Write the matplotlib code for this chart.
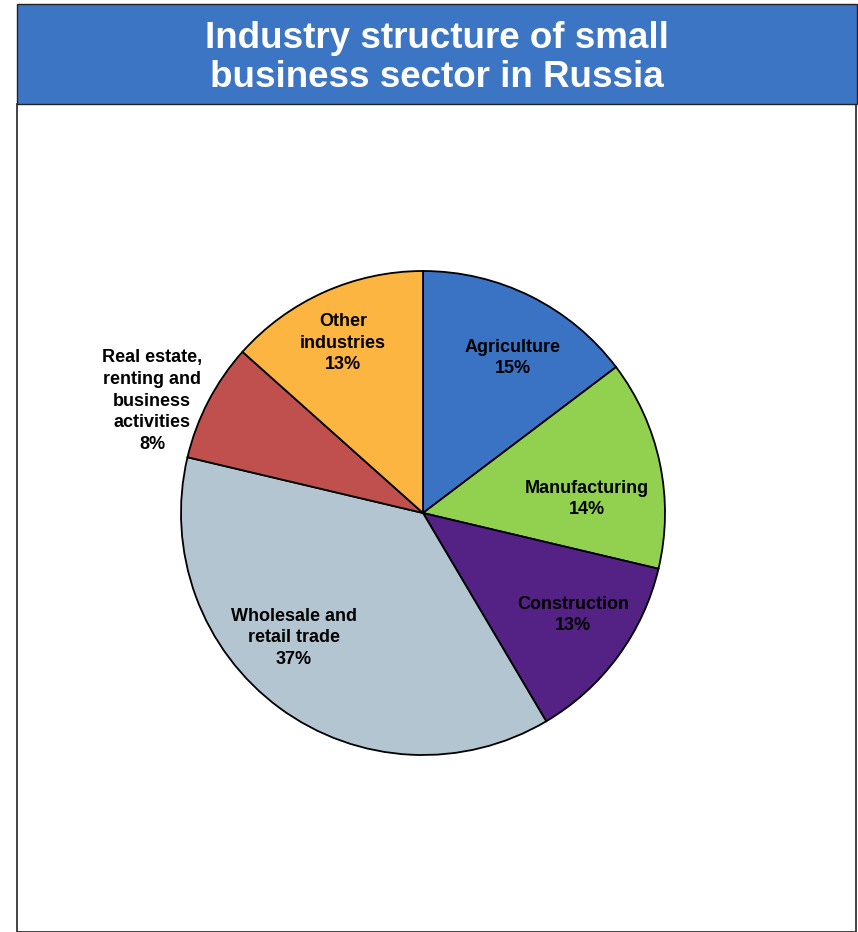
import matplotlib
matplotlib.use("Agg")
import matplotlib.pyplot as plt
from matplotlib.patches import Rectangle

# datos del grafico
sectores = ["Agriculture", "Manufacturing", "Construction", "Wholesale and\nretail trade",
            "Real estate,\nrenting and\nbusiness\nactivities", "Other\nindustries"]
porcentajes = [14.7, 14.0, 12.8, 37.2, 7.9, 13.4]
colores = ["#3B73C4", "#92D14F", "#542185", "#B3C5D1", "#C0504D", "#FBB540"]
titulo = "Industry structure of small\nbusiness sector in Russia"

plt.rcParams['font.family'] = ['Liberation Sans', 'DejaVu Sans']

fig = plt.figure(figsize=(8.58, 9.32), dpi=100)
W, H = 858, 932

# marco y banda del titulo
fig.patches.append(Rectangle((17 / W, 0), (856 - 17) / W, 1 - 104 / H, transform=fig.transFigure,
                             facecolor="white", edgecolor="#222222", linewidth=1.2, zorder=0))
fig.patches.append(Rectangle((17 / W, 1 - 104 / H), (857 - 17) / W, (104 - 4) / H, transform=fig.transFigure,
                             facecolor="#3B75C4", edgecolor="#222222", linewidth=1.0, zorder=1))
fig.text(437 / W, 1 - 58 / H, titulo, ha="center", va="center", color="white",
         fontsize=26.5, fontweight="bold", linespacing=1.13)

# pie
cx, cy, r = 423, 513, 242
ax = fig.add_axes([(cx - r) / W, 1 - (cy + r) / H, 2 * r / W, 2 * r / H], zorder=3)
ax.patch.set_visible(False)
wedges, _ = ax.pie(porcentajes, colors=colores, startangle=90, counterclock=False,
                   wedgeprops=dict(edgecolor="black", linewidth=1.3))
ax.set_xlim(-1, 1)
ax.set_ylim(-1, 1)
ax.set_aspect("auto")
ax.axis("off")

# posiciones de etiquetas (pixeles)
pos_etiquetas = [(513, 358), (587, 499), (573, 615), (294, 638), (152, 401), (343, 343)]
for nombre, pct, (px, py) in zip(sectores, porcentajes, pos_etiquetas):
    t = fig.text(px / W, 1 - py / H, f"{nombre}\n{round(pct)}%", ha="center", va="center",
                 fontsize=13, fontweight="bold", linespacing=1.37, color="black")
    t.set_zorder(5)

fig.savefig("out.png", dpi=100)
